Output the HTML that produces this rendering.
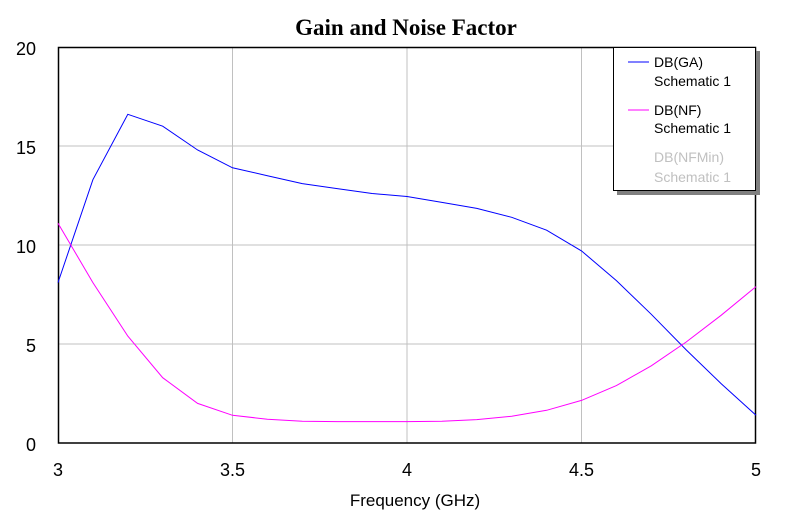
<!DOCTYPE html>
<html><head><style>body{margin:0;background:#fff}svg{display:block}</style></head><body>
<svg width="802" height="530" xmlns="http://www.w3.org/2000/svg" font-family="Liberation Sans, sans-serif">
<rect width="802" height="530" fill="#fff"/>
<text x="406" y="35" text-anchor="middle" font-family="Liberation Serif, serif" font-weight="bold" font-size="23">Gain and Noise Factor</text>
<g stroke="#c0c0c0" stroke-width="1">
<line x1="232.5" y1="47" x2="232.5" y2="443"/><line x1="407" y1="47" x2="407" y2="443"/><line x1="581.5" y1="47" x2="581.5" y2="443"/>
<line x1="58" y1="146" x2="756" y2="146"/><line x1="58" y1="245" x2="756" y2="245"/><line x1="58" y1="344" x2="756" y2="344"/>
</g>
<rect x="58.5" y="47.5" width="697" height="395.5" fill="none" stroke="#000" stroke-width="1.5"/>
<polyline fill="none" stroke="#0000ff" stroke-width="1" points="58,282.6 92.9,179.7 127.8,114.3 162.7,126.2 197.6,150 232.5,167.8 267.4,175.7 302.3,183.6 337.2,188.6 372.1,193.5 407,196.5 441.9,202.4 476.8,208.4 511.7,217.3 546.6,230.2 581.5,250.9 616.4,280.6 651.3,314.3 686.2,349.9 721.1,383.6 756,415.3"/>
<polyline fill="none" stroke="#ff00ff" stroke-width="1" points="58,223.2 92.9,282.6 127.8,336.1 162.7,377.7 197.6,403.4 232.5,415.3 267.4,419.2 302.3,421.2 337.2,421.6 372.1,421.6 407,421.6 441.9,421.2 476.8,419.6 511.7,416.3 546.6,410.3 581.5,400.4 616.4,385.6 651.3,365.8 686.2,342 721.1,315.3 756,286.6"/>
<g font-size="18" text-anchor="end">
<text x="36" y="55">20</text><text x="36" y="154">15</text><text x="36" y="253">10</text><text x="36" y="352">5</text><text x="36" y="451">0</text>
</g>
<g font-size="18" text-anchor="middle">
<text x="58" y="476">3</text><text x="232.5" y="476">3.5</text><text x="407" y="476">4</text><text x="581.5" y="476">4.5</text><text x="756" y="476">5</text>
<text x="415" y="506" font-size="17">Frequency (GHz)</text>
</g>
<rect x="617" y="51" width="143" height="144" fill="#808080"/>
<rect x="613.5" y="47.5" width="142" height="143" fill="#fff" stroke="#000" stroke-width="1"/>
<line x1="628" y1="62" x2="649" y2="62" stroke="#0000ff"/>
<line x1="628" y1="110" x2="649" y2="110" stroke="#ff00ff"/>
<g font-size="14">
<text x="654" y="67">DB(GA)</text><text x="654" y="86">Schematic 1</text>
<text x="654" y="115">DB(NF)</text><text x="654" y="133">Schematic 1</text>
<text x="654" y="162" fill="#c0c0c0">DB(NFMin)</text><text x="654" y="182" fill="#c0c0c0">Schematic 1</text>
</g>
</svg>
</body></html>
